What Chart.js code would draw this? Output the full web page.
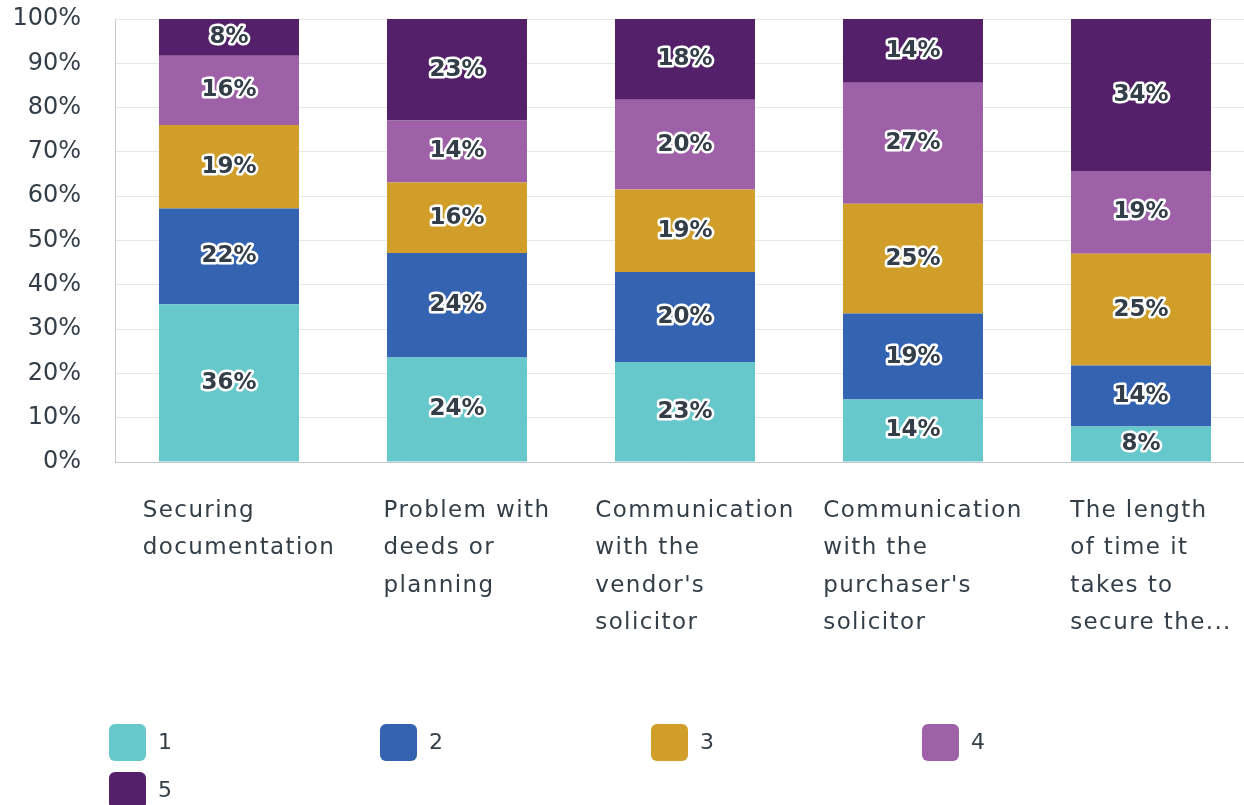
<!DOCTYPE html>
<html>
<head>
<meta charset="utf-8">
<script src="https://cdn.jsdelivr.net/npm/chart.js@4.4.1/dist/chart.umd.min.js"></script>
<style>
html, body { margin: 0; padding: 0; background: #fff; overflow: hidden; }
#wrap { width: 1260px; height: 805px; }
</style>
</head>
<body>
<div id="wrap"><canvas id="js--chart-1" width="1260" height="805"></canvas></div>
<script>
// categories, wrapped the way the reference shows them
const categories = [
    "Securing documentation",
    "Problem with deeds or planning",
    "Communication with the vendor's solicitor",
    "Communication with the purchaser's solicitor",
    "The length of time it takes to secure the..."
];
const categoryLines = [
    ["Securing", "documentation"],
    ["Problem with", "deeds or", "planning"],
    ["Communication", "with the", "vendor's", "solicitor"],
    ["Communication", "with the", "purchaser's", "solicitor"],
    ["The length", "of time it", "takes to", "secure the..."]
];

const seriesNames = ["1", "2", "3", "4", "5"];
const seriesColors = ["#66c8ca", "#3464b1", "#d19f29", "#9e60a6", "#55206a"];

// percent of answers per rating (estimated, labels show the rounded value)
const rating1 = [35.6, 23.6, 22.6, 14.1, 8.0];
const rating2 = [21.6, 23.6, 20.3, 19.4, 13.8];
const rating3 = [18.9, 15.9, 18.6, 24.8, 25.2];
const rating4 = [15.6, 14.0, 20.3, 27.3, 18.7];
const rating5 = [8.3, 22.9, 18.2, 14.4, 34.3];

const yTicks = [0, 10, 20, 30, 40, 50, 60, 70, 80, 90, 100];

const textColor = "#333e48";
const fontName = "'DejaVu Sans', sans-serif";

const seriesValues = [rating1, rating2, rating3, rating4, rating5];

// labels inside the bar segments
const segmentLabels = {
    id: "segmentLabels",
    afterDatasetsDraw(chart) {
        const ctx = chart.ctx;
        ctx.save();
        ctx.font = "bold 23px " + fontName;
        ctx.textAlign = "center";
        ctx.textBaseline = "middle";
        ctx.lineJoin = "round";
        chart.data.datasets.forEach((ds, i) => {
            chart.getDatasetMeta(i).data.forEach((bar, j) => {
                let txt = Math.round(ds.data[j]) + "%";
                let y = (bar.y + bar.base) / 2;
                ctx.lineWidth = 5;
                ctx.strokeStyle = "#fff";
                ctx.strokeText(txt, bar.x, y);
                ctx.fillStyle = textColor;
                ctx.fillText(txt, bar.x, y);
            });
        });
        ctx.restore();
    }
};

// x labels: lines left aligned inside a block centred under the bar
const categoryText = {
    id: "categoryText",
    afterDraw(chart) {
        const ctx = chart.ctx;
        const xScale = chart.scales.x;
        ctx.save();
        ctx.font = "23px " + fontName;
        ctx.letterSpacing = "1.4px";
        ctx.fillStyle = textColor;
        ctx.textAlign = "left";
        ctx.textBaseline = "middle";
        categoryLines.forEach((lines, i) => {
            let w = Math.max(...lines.map(l => ctx.measureText(l).width));
            let left = xScale.getPixelForValue(i) + 10 - w / 2;
            lines.forEach((l, k) => {
                ctx.fillText(l, left, 511 + k * 37.5);
            });
        });
        ctx.restore();
    }
};

// legend, 4 items per row
const gridLegend = {
    id: "gridLegend",
    afterDraw(chart) {
        const ctx = chart.ctx;
        ctx.save();
        ctx.font = "22px " + fontName;
        ctx.textAlign = "left";
        ctx.textBaseline = "middle";
        chart.data.datasets.forEach((ds, i) => {
            let x = 109 + (i % 4) * 271;
            let y = 724 + Math.floor(i / 4) * 48;
            ctx.fillStyle = ds.backgroundColor;
            ctx.beginPath();
            ctx.roundRect(x, y, 37, 37, 6);
            ctx.fill();
            ctx.fillStyle = textColor;
            ctx.fillText(ds.label, x + 49, y + 19);
        });
        ctx.restore();
    }
};

const config = {
    type: "bar",
    data: {
        labels: categories,
        datasets: seriesNames.map((name, i) => ({
            label: name,
            data: seriesValues[i],
            backgroundColor: seriesColors[i],
            borderWidth: 0,
            categoryPercentage: 1,
            barPercentage: 0.614
        }))
    },
    options: {
        responsive: false,
        devicePixelRatio: 1,
        animation: false,
        layout: { padding: { top: 19, right: 5, bottom: 343, left: 0 } },
        plugins: {
            legend: { display: false },
            tooltip: { enabled: false }
        },
        scales: {
            x: {
                stacked: true,
                grid: { display: false },
                border: { display: true, color: "#c6cacc", width: 1 },
                ticks: { display: false },
                afterFit: (scale) => { scale.height = 0; }
            },
            y: {
                stacked: true,
                min: 0,
                max: 100,
                afterBuildTicks: (scale) => {
                    scale.ticks = yTicks.map(v => ({ value: v }));
                },
                afterFit: (scale) => {
                    scale.width = 115;
                    scale.paddingTop = 0;
                    scale.paddingBottom = 0;
                },
                grid: { color: "#e6e8e9", drawTicks: false },
                border: { display: true, color: "#c6cacc", width: 1 },
                ticks: {
                    padding: 34,
                    color: textColor,
                    font: { family: fontName, size: 24 },
                    callback: (v) => v + "%"
                }
            }
        }
    },
    plugins: [segmentLabels, categoryText, gridLegend]
};

const chart1 = new Chart(document.getElementById("js--chart-1"), config);
</script>
</body>
</html>
